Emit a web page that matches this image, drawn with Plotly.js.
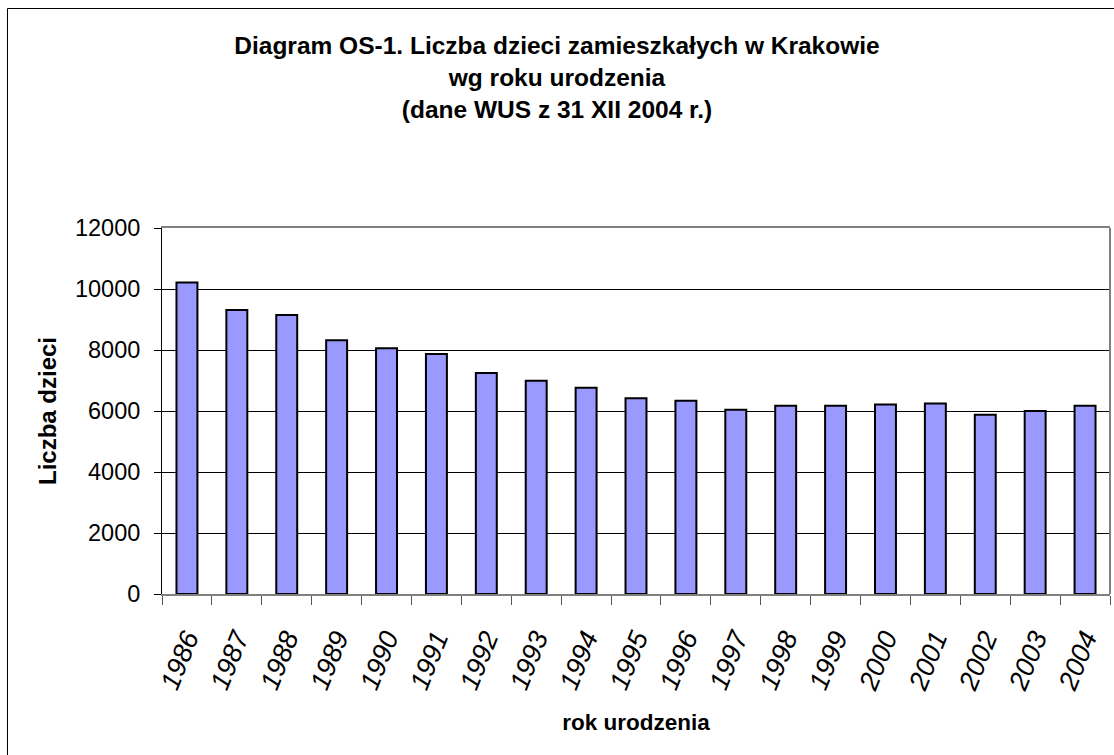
<!DOCTYPE html>
<html>
<head>
<meta charset="utf-8">
<script src="https://cdn.plot.ly/plotly-3.0.1.min.js"></script>
<style>
  html, body { margin: 0; padding: 0; background: #fff; }
  #chart { width: 1114px; height: 755px; }
</style>
</head>
<body>
<div id="chart"></div>
<script>
const years = ["1986","1987","1988","1989","1990","1991","1992","1993","1994","1995",
               "1996","1997","1998","1999","2000","2001","2002","2003","2004"];
const children = [10210, 9310, 9150, 8320, 8060, 7870, 7250, 6990, 6760, 6420,
                  6340, 6040, 6170, 6170, 6210, 6250, 5880, 6000, 6170];
const yTicks = [0, 2000, 4000, 6000, 8000, 10000, 12000];

const titleText = "Diagram OS-1. Liczba dzieci zamieszkałych w Krakowie<br>wg roku urodzenia<br>(dane WUS z 31 XII 2004 r.)";

const trace = {
  type: "bar",
  x: years,
  y: children,
  marker: { color: "#9999FF", line: { color: "#000000", width: 2 } },
  hoverinfo: "x+y"
};

const W = 1114, H = 755;
const L = 162, R = 4, T = 228, B = 161;
const pw = W - L - R, ph = H - T - B;
const px2x = p => (p - L) / pw;
const py2y = p => (H - B - p) / ph;

const layout = {
  width: W, height: H,
  margin: { l: L, r: R, t: T, b: B, pad: 0 },
  paper_bgcolor: "#ffffff",
  plot_bgcolor: "#ffffff",
  font: { family: "Arial, 'Liberation Sans', sans-serif", color: "#000000" },
  showlegend: false,
  bargap: 0.58,
  title: {
    text: titleText,
    font: { size: 24.5, family: "Arial, 'Liberation Sans', sans-serif", weight: "bold", color: "#000" },
    x: 0.5, xref: "container", xanchor: "center",
    y: 1 - 54 / H, yref: "container", yanchor: "top"
  },
  xaxis: {
    type: "category",
    tickmode: "array",
    tickvals: years,
    ticktext: years,
    tickson: "boundaries",
    ticks: "outside",
    ticklen: 9,
    tickcolor: "#555555",
    tickwidth: 1,
    tickangle: -68,
    tickfont: { size: 27, style: "italic", color: "#000" },
    ticklabelstandoff: 16,
    showline: true,
    linecolor: "#808080",
    linewidth: 2,
    mirror: true,
    showgrid: false,
    zeroline: false,
    automargin: false,
    title: {
      text: "rok urodzenia",
      font: { size: 22.5, weight: "bold", color: "#000" },
      standoff: 20
    }
  },
  yaxis: {
    range: [0, 12000],
    tickmode: "array",
    tickvals: yTicks,
    ticktext: yTicks.map(String),
    ticks: "outside",
    ticklen: 7,
    tickcolor: "#000",
    tickfont: { size: 23.5, color: "#000" },
    ticklabelstandoff: 9,
    showline: true,
    linecolor: "#000000",
    linewidth: 1,
    showgrid: true,
    gridcolor: "#000000",
    gridwidth: 1,
    zeroline: false,
    automargin: false,
    title: {
      text: "Liczba dzieci",
      font: { size: 24, weight: "bold", color: "#000" },
      standoff: 11
    }
  },
  shapes: [
    { type: "line", xref: "paper", yref: "paper", x0: 1, x1: 1, y0: 0, y1: 1,
      line: { color: "#808080", width: 2 } },
    { type: "line", xref: "paper", yref: "paper", x0: px2x(7.5), x1: px2x(7.5), y0: py2y(8.5), y1: py2y(H + 20),
      line: { color: "#000000", width: 1 } },
    { type: "line", xref: "paper", yref: "paper", x0: px2x(7.5), x1: px2x(W + 20), y0: py2y(8.5), y1: py2y(8.5),
      line: { color: "#000000", width: 1 } }
  ]
};

Plotly.newPlot("chart", [trace], layout, { displayModeBar: false, staticPlot: true });
</script>
</body>
</html>
